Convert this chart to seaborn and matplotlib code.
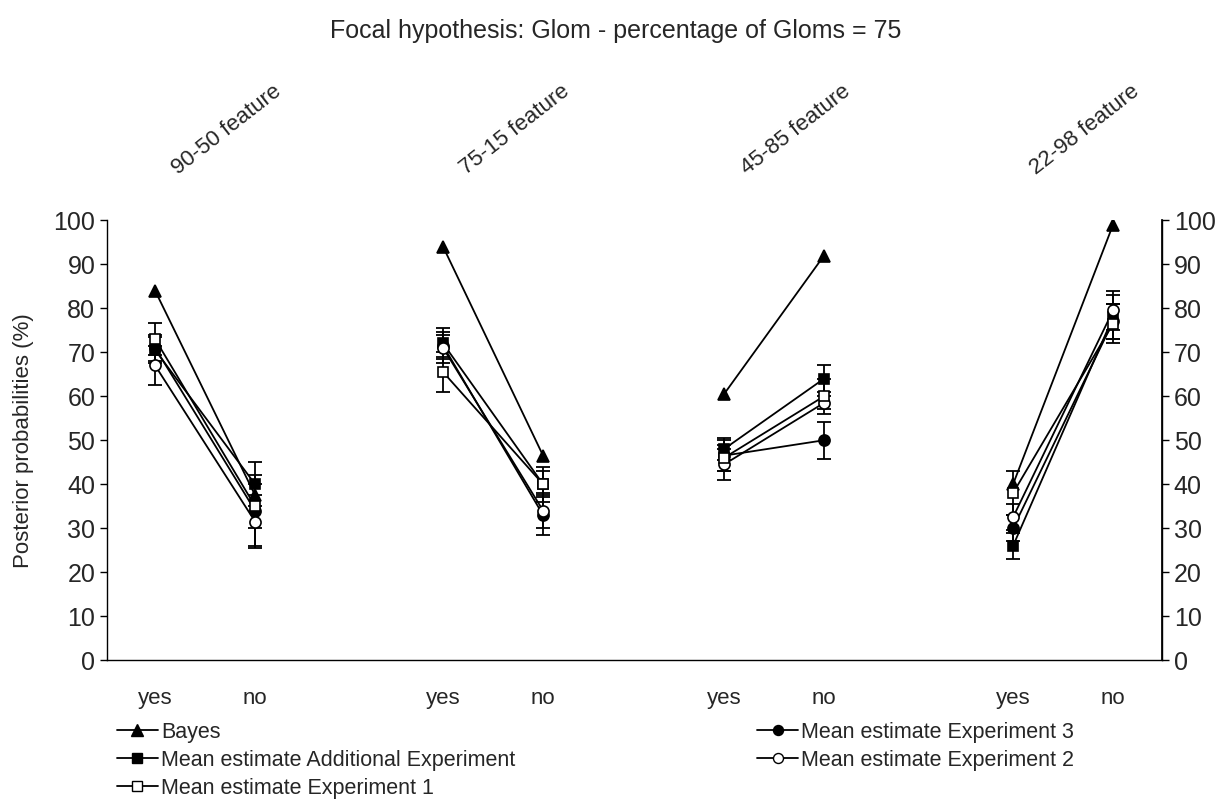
import numpy as np
import pandas as pd
import seaborn as sns
import matplotlib
matplotlib.use("Agg")
import matplotlib.pyplot as plt
from matplotlib.lines import Line2D

# Data
features = ["90-50 feature", "75-15 feature", "45-85 feature", "22-98 feature"]
answers = ["yes", "no"]
group_offsets = [0.0, 2.88, 5.69, 8.58]

bayes = [84, 37.5, 94, 46.5, 60.5, 92, 40, 99]
additional = [70.5, 40, 72, 40, 48, 64, 26, 78]
exp3 = [71, 34, 71.5, 33, 46.5, 50, 30, 77]
exp2 = [67, 31.5, 71, 34, 44.5, 58.5, 32.5, 79.5]
exp1 = [73, 35, 65.5, 40, 46, 60, 38, 76.5]

additional_err = [3, 5, 3.5, 3, 2.5, 3, 3, 5]
exp3_err = [3, 8, 2.5, 4.5, 3.5, 4.2, 3, 4]
exp2_err = [4.5, 6, 3.5, 4, 3.5, 1.5, 3, 4.5]
exp1_err = [3.6, 5, 4.5, 4, 3, 4, 5, 4.5]

series = [
    ("Bayes", bayes, None, "^", "black"),
    ("Mean estimate Experiment 3", exp3, exp3_err, "o", "black"),
    ("Mean estimate Additional Experiment", additional, additional_err, "s", "black"),
    ("Mean estimate Experiment 2", exp2, exp2_err, "o", "white"),
    ("Mean estimate Experiment 1", exp1, exp1_err, "s", "white"),
]

positions = []
groups = []
for gi, off in enumerate(group_offsets):
    for ai in range(len(answers)):
        positions.append(off + ai)
        groups.append(gi)

sns.set_theme()
sns.set_style("white")
plt.rcParams['font.family'] = ['Liberation Sans', 'DejaVu Sans']

fig = plt.figure(figsize=(12.31, 8.10), dpi=100)
ax = fig.add_axes([0.087, 0.185, 0.857, 0.543])

msize = {"^": 9, "o": 8, "s": 7.5}
for name, vals, err, mk, fc in series:
    df = pd.DataFrame({"x": positions, "y": vals, "group": groups})
    if err is not None:
        ax.errorbar(df["x"], df["y"], yerr=err, fmt="none", ecolor="black",
                    elinewidth=1.3, capsize=5, capthick=1.3, zorder=2)
    sns.lineplot(data=df, x="x", y="y", units="group", estimator=None,
                 color="black", linewidth=1.3, marker=mk, markersize=msize[mk],
                 markerfacecolor=fc, markeredgecolor="black", markeredgewidth=1.2,
                 ax=ax, zorder=3)

ax.set_xlim(-0.48, 10.07)
ax.set_ylim(0, 100)
ax.set_yticks(range(0, 101, 10))
ax.set_xticks(positions)
ax.set_xticklabels(answers * len(features))
ax.tick_params(axis="x", length=0, pad=20, labelsize=16)
ax.tick_params(axis="y", direction="out", length=5, width=1, color="black",
               labelsize=18, left=True)
ax.set_xlabel("")
ax.set_ylabel("Posterior probabilities (%)", fontsize=16, labelpad=14)
for s in ["left", "bottom", "right"]:
    ax.spines[s].set_color("black")
    ax.spines[s].set_linewidth(1)
ax.spines["top"].set_visible(False)

ax2 = ax.twinx()
ax2.set_ylim(0, 100)
ax2.set_yticks(range(0, 101, 10))
ax2.tick_params(axis="y", direction="out", length=5, width=1, color="black",
                labelsize=18, right=True)
for s in ["left", "bottom", "top"]:
    ax2.spines[s].set_visible(False)
ax2.spines["right"].set_color("black")

for off, feat in zip(group_offsets, features):
    ax.text(off + 0.26, 1.095, feat, transform=ax.get_xaxis_transform(),
            rotation=38, rotation_mode="anchor", ha="left", va="bottom",
            fontsize=16)

fig.text(0.5, 0.962, "Focal hypothesis: Glom - percentage of Gloms = 75",
         ha="center", va="center", fontsize=18)

def handle(mk, fc):
    return Line2D([], [], color="black", linewidth=1.3, marker=mk,
                  markersize=msize[mk] * 0.9, markerfacecolor=fc,
                  markeredgecolor="black")

legend_kw = dict(loc="upper left", frameon=False, fontsize=15.5,
                 handlelength=1.9, handletextpad=0.15, labelspacing=0.33,
                 borderaxespad=0, borderpad=0)
left = [series[0], series[2], series[4]]
right = [series[1], series[3]]
fig.legend([handle(s[3], s[4]) for s in left], [s[0] for s in left],
           bbox_to_anchor=(0.095, 0.109), **legend_kw)
fig.legend([handle(s[3], s[4]) for s in right], [s[0] for s in right],
           bbox_to_anchor=(0.615, 0.109), **legend_kw)

fig.savefig("out.png", dpi=100)
